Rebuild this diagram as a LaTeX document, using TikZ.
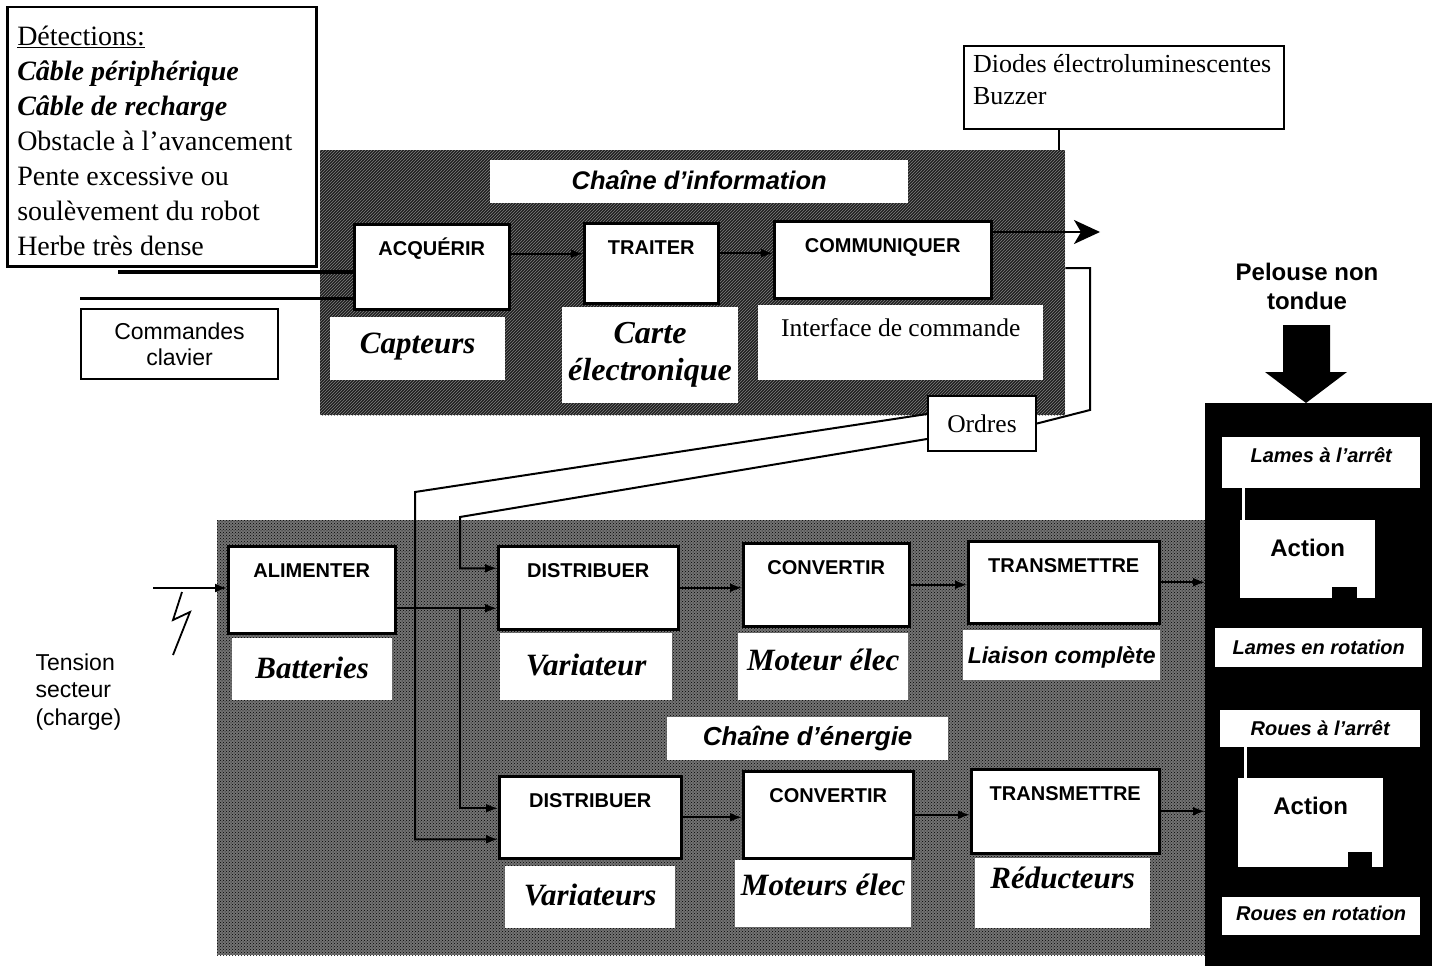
\documentclass[tikz,border=0pt]{standalone}
\usepackage{fontspec}
\setmainfont{Liberation Serif}
\setsansfont{Liberation Sans}
\usetikzlibrary{arrows.meta,patterns}

\tikzset{
  zone/.style={anchor=north west, inner sep=0pt},
  fn/.style={draw, line width=2.5pt, fill=white, anchor=north west, inner sep=0pt,
    text height=31pt, font=\sffamily\bfseries\fontsize{20}{24}\selectfont},
  tag/.style={fill=white, anchor=north west, inner sep=0pt,
    font=\bfseries\itshape\fontsize{31}{37}\selectfont},
  stag/.style={tag, font=\sffamily\bfseries\itshape\fontsize{20}{24}\selectfont},
  note/.style={draw, line width=2pt, fill=white, anchor=north west, inner sep=0pt},
  wire/.style={line width=2pt},
  flow/.style={wire, -{Latex[length=12pt,width=9pt]}},
}

\begin{document}
\begin{tikzpicture}[x=1pt,y=-1pt]
	\useasboundingbox (0,0) rectangle (1437,966);

	% zones
	\node[zone, fill=black!88, postaction={pattern=north east lines, pattern color=black!50},
		minimum width=745pt, minimum height=265pt] (info) at (320,150) {};
	\node[zone, fill=black!55, postaction={pattern=crosshatch dots, pattern color=black},
		minimum width=988pt, minimum height=435pt] (energy) at (217,520) {};
	\node[zone, fill=black, minimum width=227pt, minimum height=563pt] (col) at (1205,403) {};

	% chaine d'information
	\node[stag, minimum width=418pt, text height=29pt, text depth=14pt,
		font=\sffamily\bfseries\itshape\fontsize{25.5}{30}\selectfont] (infotitle) at (490,160) {Chaîne d'information};
	\node[fn, minimum width=155pt, text depth=54pt] (acq) at (353,223) {ACQUÉRIR};
	\node[fn, minimum width=134pt, text depth=49pt] (trait) at (583,222) {TRAITER};
	\node[fn, minimum width=217pt, text depth=46pt] (comm) at (773,220) {COMMUNIQUER};
	\node[tag, minimum width=175pt, text height=36pt, text depth=27pt] (capt) at (330,317) {Capteurs};
	\node[tag, anchor=center, minimum width=176pt, minimum height=96pt, align=center,
		font=\bfseries\itshape\fontsize{32}{37}\selectfont] (carte) at (650,355) {Carte\\électronique};
	\node[tag, minimum width=285pt, text height=31pt, text depth=44pt,
		font=\fontsize{25.5}{30}\selectfont] (iface) at (758,305) {Interface de commande};

	% notes
	\node[note, line width=2.5pt, inner xsep=10pt, text height=38pt, text depth=221pt,
		font=\fontsize{28}{35}\selectfont] (det) at (6,6) {\parbox[t]{289pt}{\raggedright
		\underline{Détections:}\\
		\textbf{\textit{Câble périphérique}}\\
		\textbf{\textit{Câble de recharge}}\\
		Obstacle à l'avancement\\
		Pente excessive ou\\
		soulèvement du robot\\
		Herbe très dense}};
	\node[note, inner xsep=9pt, text height=27pt, text depth=56pt,
		font=\fontsize{26}{32}\selectfont] (diodes) at (963,45) {\parbox[t]{302pt}{\raggedright
		Diodes électroluminescentes\\
		Buzzer}};
	\node[note, minimum width=197pt, minimum height=70pt, align=center,
		font=\sffamily\fontsize{23}{26}\selectfont] (cmd) at (80,308) {Commandes\\clavier};
	\node[note, minimum width=108pt, minimum height=55pt,
		font=\fontsize{25.5}{30}\selectfont] (ordres) at (927,395) {Ordres};

	% chaine d'energie
	\node[fn, minimum width=167pt, text depth=56pt] (alim) at (227,545) {ALIMENTER};
	\node[fn, minimum width=180pt, text depth=52pt] (dist1) at (497,545) {DISTRIBUER};
	\node[fn, minimum width=166pt, text depth=52pt] (conv1) at (742,542) {CONVERTIR};
	\node[fn, minimum width=191pt, text depth=51pt] (trans1) at (967,540) {TRANSMETTRE};
	\node[fn, minimum width=182pt, text depth=51pt] (dist2) at (498,775) {DISTRIBUER};
	\node[fn, minimum width=170pt, text depth=56pt] (conv2) at (742,770) {CONVERTIR};
	\node[fn, minimum width=188pt, text depth=53pt] (trans2) at (970,768) {TRANSMETTRE};
	\node[tag, minimum width=160pt, text height=40pt, text depth=22pt] (batt) at (232,638) {Batteries};
	\node[tag, minimum width=172pt, text height=42pt, text depth=25pt] (var1) at (500,633) {Variateur};
	\node[tag, minimum width=170pt, text height=37pt, text depth=30pt] (mot1) at (738,633) {Moteur élec};
	\node[stag, minimum width=197pt, text height=33pt, text depth=17pt,
		font=\sffamily\bfseries\itshape\fontsize{23}{28}\selectfont] (liais) at (963,630) {Liaison complète};
	\node[stag, minimum width=281pt, text height=28pt, text depth=15pt,
		font=\sffamily\bfseries\itshape\fontsize{26}{30}\selectfont] (entitle) at (667,717) {Chaîne d'énergie};
	\node[tag, minimum width=170pt, text height=39pt, text depth=23pt] (var2) at (505,866) {Variateurs};
	\node[tag, minimum width=176pt, text height=35pt, text depth=32pt] (mot2) at (735,860) {Moteurs élec};
	\node[tag, minimum width=175pt, text height=30pt, text depth=40pt] (reduc) at (975,858) {Réducteurs};

	% effets
	\node[stag, minimum width=198pt, text height=25pt, text depth=26pt] (lstop) at (1222,437) {Lames à l'arrêt};
	\node[stag, minimum width=135pt, text height=36pt, text depth=42pt,
		font=\sffamily\bfseries\fontsize{24}{28}\selectfont] (act1) at (1240,520) {Action};
	\node[stag, minimum width=207pt, text height=26pt, text depth=13pt] (lrot) at (1215,628) {Lames en rotation};
	\node[stag, minimum width=200pt, text height=25pt, text depth=12pt] (rstop) at (1220,710) {Roues à l'arrêt};
	\node[stag, minimum width=145pt, text height=36pt, text depth=53pt,
		font=\sffamily\bfseries\fontsize{24}{28}\selectfont] (act2) at (1238,778) {Action};
	\node[stag, minimum width=198pt, text height=23pt, text depth=15pt] (rrot) at (1222,897) {Roues en rotation};
	\fill ([xshift=-43pt,yshift=11pt]act1.south east) rectangle ++(25,23);
	\fill ([xshift=-35pt,yshift=15pt]act2.south east) rectangle ++(24,31);
	\coordinate (k1) at ([xshift=3pt]act1.north west);
	\coordinate (k2) at ([xshift=7pt]act2.north west);
	\draw[white, line width=3pt] (k1 |- lstop.south) -- (k1);
	\draw[white, line width=3pt] (k2 |- rstop.south) -- (k2);

	\node[font=\sffamily\bfseries\fontsize{24}{29}\selectfont, align=center] (pelouse) at (1307,286) {Pelouse non\\tondue};
	\fill (1283,325) -- (1330,325) -- (1330,372) -- (1347,372) -- (1306,403) -- (1265,372) -- (1283,372) -- cycle;

	\node[anchor=west, align=left, font=\sffamily\fontsize{23}{27.5}\selectfont] (mainslab) at (32,692) {Tension\\secteur\\(charge)};

	% liaisons information
	\coordinate (c1) at ([yshift=-4pt]det.south west);
	\draw[line width=4pt] ([xshift=112pt]c1) -- (c1 -| acq.west);
	\coordinate (c2) at ([yshift=10pt]cmd.north west);
	\draw[line width=3pt] (c2) -- (c2 -| acq.west);
	\coordinate (a1) at ([yshift=13pt]acq.east);
	\draw[flow] (a1) -- (a1 -| trait.west);
	\coordinate (a2) at ([yshift=10pt]trait.east);
	\draw[flow] (a2) -- (a2 -| comm.west);
	\coordinate (commout) at (1100,232);
	\draw[wire, -{Stealth[length=26pt,width=24pt,inset=7pt]}] (commout -| comm.east) -- (commout);
	\coordinate (dl) at ([xshift=-65pt]diodes.south);
	\draw[wire] (dl) -- (dl |- info.north);
	\coordinate (ordturn) at (1090,268);
	\draw[wire] (ordturn -| info.east) -- (ordturn) -- ++(0,142) -- (ordres.east);

	% ordres
	\coordinate (ordA) at (415,492);
	\coordinate (ordB) at (460,517);
	\coordinate (d1a) at ([yshift=19.5pt]dist1.west);
	\coordinate (d2a) at ([yshift=-22pt]dist2.west);
	\draw[flow] ([yshift=9.5pt]ordres.west) -- (ordA) |- (d2a);
	\draw[flow] ([yshift=-15.5pt]ordres.west) -- (ordB) |- (d1a);

	% liaisons energie
	\coordinate (mains) at (153,588);
	\draw[flow] (mains) -- (mains -| alim.west);
	\draw[line width=1.8pt] (182,592) -- (173,620) -- (190,612) -- (173,655);
	\coordinate (d1b) at ([yshift=-20.5pt]dist1.west);
	\coordinate (d2b) at ([yshift=9pt]dist2.west);
	\draw[flow] (d1b -| alim.east) -- (d1b);
	\draw[flow] (d1b -| ordB) |- (d2b);
	\draw[flow] (dist1.east) -- (dist1.east -| conv1.west);
	\draw[flow] (conv1.east) -- (conv1.east -| trans1.west);
	\draw[flow] (trans1.east) -- (trans1.east -| col.west);
	\draw[flow] (dist2.east) -- (dist2.east -| conv2.west);
	\draw[flow] (conv2.east) -- (conv2.east -| trans2.west);
	\draw[flow] (trans2.east) -- (trans2.east -| col.west);
\end{tikzpicture}
\end{document}
